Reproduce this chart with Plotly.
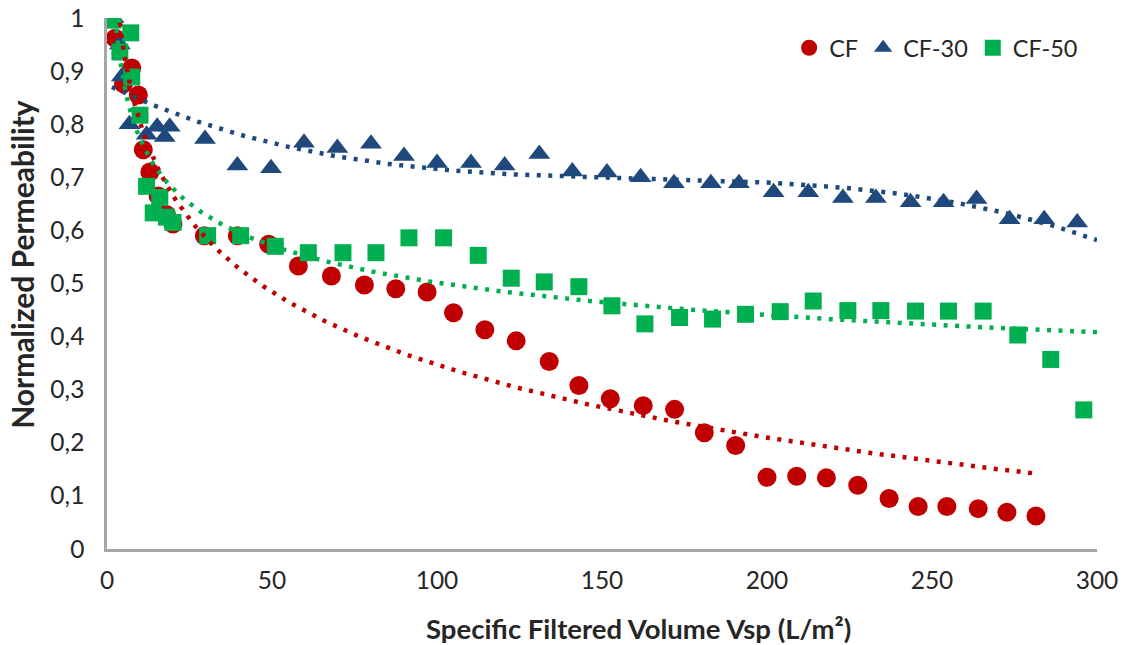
import numpy as np
import plotly.graph_objects as go

# ---- data ----
cf_x = [2.5, 5, 7.5, 9.5, 11, 13, 15.5, 18, 20, 29.5, 39.5, 49, 58, 68, 78, 87.5, 97, 105,
        114.5, 124, 134, 143, 152.5, 162.5, 172, 181, 190.5, 200, 209, 218, 227.5, 237,
        245.8, 254.5, 264, 272.7, 281.5]
cf_y = [0.962, 0.876, 0.906, 0.855, 0.752, 0.71, 0.665, 0.63, 0.612, 0.59, 0.59, 0.574,
        0.533, 0.514, 0.497, 0.49, 0.484, 0.445, 0.413, 0.392, 0.353, 0.308, 0.283, 0.27,
        0.263, 0.219, 0.195, 0.135, 0.137, 0.134, 0.12, 0.095, 0.08, 0.08, 0.076, 0.069, 0.062]

cf30_x = [2, 3.9, 4.5, 6.8, 12, 15.2, 17.5, 19, 29.7, 39.5, 49.7, 59.7, 69.8, 80, 90, 100,
          110.3, 120.5, 131, 141, 151.5, 161.7, 171.8, 183, 191.5, 202, 212.5, 223, 233,
          243.5, 253.5, 263.5, 273.5, 284, 294]
cf30_y = [1.0, 0.95, 0.89, 0.80, 0.78, 0.795, 0.776, 0.795, 0.772, 0.722, 0.717, 0.765,
          0.755, 0.763, 0.74, 0.727, 0.727, 0.722, 0.744, 0.711, 0.709, 0.70, 0.689, 0.689,
          0.689, 0.672, 0.672, 0.661, 0.661, 0.653, 0.653, 0.659, 0.621, 0.621, 0.615]

cf50_x = [1.8, 3.9, 7.2, 7.5, 10, 12, 14, 16, 18, 20, 30.5, 40.5, 51, 61, 71.5, 81.5, 91.5,
          102, 112.5, 122.5, 132.5, 143, 153, 163, 173.5, 183.5, 193.5, 204, 214, 224.5,
          234.5, 245, 255, 265.5, 276, 286, 296]
cf50_y = [0.996, 0.936, 0.972, 0.889, 0.817, 0.683, 0.633, 0.662, 0.625, 0.615, 0.59, 0.59,
          0.57, 0.558, 0.558, 0.558, 0.586, 0.586, 0.553, 0.51, 0.503, 0.494, 0.458, 0.424,
          0.436, 0.433, 0.442, 0.447, 0.467, 0.449, 0.449, 0.448, 0.448, 0.448, 0.403, 0.357,
          0.262]

names = ["CF", "CF-30", "CF-50"]
colors = ["#C00000", "#1F497D", "#00B050"]
symbols = ["circle", "triangle-up", "square"]

x_ticks = [0, 50, 100, 150, 200, 250, 300]
y_ticks = [0, 0.1, 0.2, 0.3, 0.4, 0.5, 0.6, 0.7, 0.8, 0.9, 1]
x_title = "Specific Filtered Volume Vsp (L/m²)"
y_title = "Normalized Permeability"

# ---- trendlines fitted from the data (as Excel does) ----
def log_fit(x, y, xs):
    b, a = np.polyfit(np.log(x), y, 1)
    return a + b * np.log(xs)

def poly_fit(x, y, xs, deg):
    s = 100.0
    return np.polyval(np.polyfit(np.asarray(x) / s, y, deg), xs / s)

def power_fit(x, y, xs):
    c, ln_a = np.polyfit(np.log(x), np.log(y), 1)
    return np.exp(ln_a) * xs ** c

xs_cf = np.linspace(min(cf_x), max(cf_x), 300)
xs_30 = np.linspace(1.5, 300, 300)
xs_50 = np.linspace(min(cf50_x), 300, 300)
trends = [
    (xs_cf, log_fit(np.array(cf_x), np.array(cf_y), xs_cf)),
    (xs_30, poly_fit(cf30_x, cf30_y, xs_30, 3)),
    (xs_50, power_fit(np.array(cf50_x), np.array(cf50_y), xs_50)),
]

fig = go.Figure()
series = [(cf_x, cf_y), (cf30_x, cf30_y), (cf50_x, cf50_y)]
sizes = [19, 19, 17]
for (x, y), n, c, s, sz in zip(series, names, colors, symbols, sizes):
    fig.add_trace(go.Scatter(x=x, y=y, mode="markers", name=n,
                             marker=dict(color=c, symbol=s, size=sz,
                                         line=dict(width=0))))
for (tx, ty), c in zip(trends, colors):
    fig.add_trace(go.Scatter(x=tx, y=ty, mode="lines", showlegend=False,
                             hoverinfo="skip",
                             line=dict(color=c, width=4.5, dash="4px,7.5px")))

font_family = "Lato, 'Open Sans', sans-serif"
txt = "#262626"
fig.update_layout(
    width=1126, height=645,
    margin=dict(l=107, r=29, t=18, b=96),
    paper_bgcolor="white", plot_bgcolor="white",
    separators=", ",
    font=dict(family=font_family, size=24, color=txt),
    legend=dict(orientation="h", x=0.986, y=0.985, xanchor="right", yanchor="top",
                font=dict(size=23.5, color=txt), itemwidth=30, tracegroupgap=0,
                bgcolor="rgba(0,0,0,0)"),
    xaxis=dict(range=[0, 300], tickvals=x_ticks, showgrid=False, zeroline=False,
               showline=True, linecolor="#A6A6A6", linewidth=2.5, automargin=False,
               ticks="", ticklabelstandoff=8,
               tickfont=dict(size=24.5, color=txt)),
    yaxis=dict(range=[0, 1], tickvals=y_ticks, showgrid=False, zeroline=False,
               showline=True, linecolor="#A6A6A6", linewidth=2.5, automargin=False,
               ticks="", ticklabelstandoff=15,
               tickfont=dict(size=24.5, color=txt)),
    annotations=[
        dict(text="<b>" + x_title + "</b>", xref="paper", yref="paper",
             x=0.537, y=-0.149, xanchor="center", yanchor="middle", showarrow=False,
             font=dict(size=27.5, color=txt)),
        dict(text="<b>" + y_title + "</b>", xref="paper", yref="paper",
             x=-0.0859, y=0.537, xanchor="center", yanchor="middle", showarrow=False,
             textangle=-90, font=dict(size=30, color=txt)),
    ],
)

fig.write_html("out.html", config={"displayModeBar": False},
               post_script="document.body.style.margin='0';")
